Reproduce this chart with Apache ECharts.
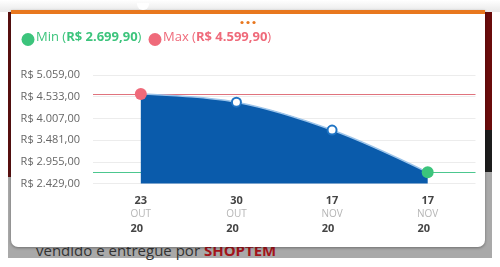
<!DOCTYPE html>
<html><head><meta charset="utf-8">
<script src="https://cdn.jsdelivr.net/npm/echarts@6/dist/echarts.min.js"></script>
<style>
html,body{margin:0;padding:0;width:500px;height:267px;overflow:hidden;background:#fff;font-family:"Open Sans",sans-serif;}
.abs{position:absolute;}
#chart{position:absolute;left:0;top:0;width:500px;height:267px;}
</style></head>
<body>
<div class="abs" style="left:0;top:0;width:500px;height:12px;background:linear-gradient(#fff,#e9e9e9);"></div>
<div class="abs" style="left:8px;top:12px;width:484px;height:246px;background:#a9a9a9;"></div>
<div class="abs" style="left:8px;top:12px;width:6px;height:165px;background:#5a1010;"></div>
<div class="abs" style="left:484px;top:12px;width:8px;height:118px;background:#6a0b0b;"></div>
<div class="abs" style="left:484px;top:130px;width:8px;height:42px;background:#1c1c1c;"></div>
<div class="abs" style="left:36px;top:240px;font-size:15px;color:#333;white-space:nowrap;">vendido e entregue por <b style="color:#a3141a">SHOPTEM</b></div>
<div class="abs" style="left:11px;top:10px;width:474px;height:237px;background:#fff;border-top:4px solid #e8771e;box-sizing:border-box;border-radius:0 0 7px 7px;box-shadow:0 1px 3px rgba(0,0,0,0.35);"></div>
<div class="abs" style="left:137px;top:3px;width:12px;height:7px;background:#fff;border-radius:0 0 6px 6px;"></div>
<div id="chart"></div>
<script>
const categories = ['23', '30', '17', '17'];
const months = ['OUT', 'OUT', 'NOV', 'NOV'];
const years = ['20', '20', '20', '20'];
const prices = [4599.90, 4399.90, 3724.90, 2699.90];
const yTicks = [2429, 2955, 3481, 4007, 4533, 5059];
const minPrice = 2699.90;
const maxPrice = 4599.90;
const minLabel = 'R$ 2.699,90';
const maxLabel = 'R$ 4.599,90';

function brl(v){
  const s = Math.round(v).toString().replace(/\B(?=(\d{3})+(?!\d))/g, '.');
  return 'R$ ' + s + ',00';
}
const xData = categories.map((d,i)=>({value: d + '|' + months[i] + '|' + years[i]}));
const GREEN = '#3cc47c', RED = '#ef6a7a', BLUE = '#0a5bab';

const chart = echarts.init(document.getElementById('chart'), null, {renderer:'canvas'});
chart.setOption({
  backgroundColor: 'transparent',
  animation: false,
  grid: {left: 93, right: 24.5, top: 75, bottom: 83.5},
  xAxis: {
    type: 'category', data: xData, boundaryGap: true,
    axisLine: {show:false}, axisTick: {show:false},
    axisLabel: {
      margin: 10, interval: 0,
      formatter: function(v){ const p = v.split('|'); return '{d|' + p[0] + '}\n{m|' + p[1] + '}\n{y|' + p[2] + '}'; },
      rich: {
        d: {fontFamily:'Open Sans', fontSize:11, fontWeight:'bold', color:'#444', lineHeight:14},
        m: {fontFamily:'Open Sans', fontSize:10, color:'#b5b5b5', lineHeight:14},
        y: {fontFamily:'Open Sans', fontSize:11, fontWeight:'bold', color:'#444', lineHeight:14, padding:[0,8,0,0]}
      }
    }
  },
  yAxis: {
    type: 'value', min: yTicks[0], max: yTicks[yTicks.length-1], interval: yTicks[1]-yTicks[0],
    axisLine:{show:false}, axisTick:{show:false},
    splitLine:{lineStyle:{color:'#ececec', width:1}},
    axisLabel:{margin:13, color:'#666', fontFamily:'Open Sans', fontSize:11, formatter: v => brl(v)}
  },
  series: [{
    type: 'line', data: prices, smooth: 0.35,
    lineStyle: {color:'#9cc4ea', width:1.5},
    areaStyle: {color: BLUE, opacity:1},
    symbol: 'circle',
    itemStyle: {color:'#fff', borderColor:'#1f74c4', borderWidth:2},
    symbolSize: 9,
    data: prices.map(function(v){
      if (v === maxPrice) return {value:v, symbolSize:12, itemStyle:{color:RED, borderWidth:0}};
      if (v === minPrice) return {value:v, symbolSize:12, itemStyle:{color:GREEN, borderWidth:0}};
      return v;
    }),
    z: 3,
    markLine: {
      silent: true, symbol: 'none', label:{show:false},
      data: [
        {yAxis: maxPrice, lineStyle:{color:'#e0737d', width:1, type:'solid'}},
        {yAxis: minPrice, lineStyle:{color:'#4cc78f', width:1, type:'solid'}}
      ],
      z: 2
    }
  }],
  graphic: [
    {type:'circle', shape:{cx:28, cy:39.5, r:6.5}, style:{fill:GREEN}},
    {type:'text', left:36, top:31, style:{
      text:'{n|Min (}{b|' + minLabel + '}{n|)}',
      rich:{n:{fontFamily:'Open Sans', fontSize:13, fill:GREEN}, b:{fontFamily:'Open Sans', fontSize:13, fontWeight:'bold', fill:GREEN}}
    }},
    {type:'circle', shape:{cx:155, cy:39.5, r:6.5}, style:{fill:RED}},
    {type:'text', left:163, top:31, style:{
      text:'{n|Max (}{b|' + maxLabel + '}{n|)}',
      rich:{n:{fontFamily:'Open Sans', fontSize:13, fill:RED}, b:{fontFamily:'Open Sans', fontSize:13, fontWeight:'bold', fill:RED}}
    }},
    {type:'circle', shape:{cx:242, cy:22.5, r:1.6}, style:{fill:'#e8771e'}},
    {type:'circle', shape:{cx:248, cy:22.5, r:1.6}, style:{fill:'#e8771e'}},
    {type:'circle', shape:{cx:254, cy:22.5, r:1.6}, style:{fill:'#e8771e'}}
  ]
});
</script>
</body></html>
